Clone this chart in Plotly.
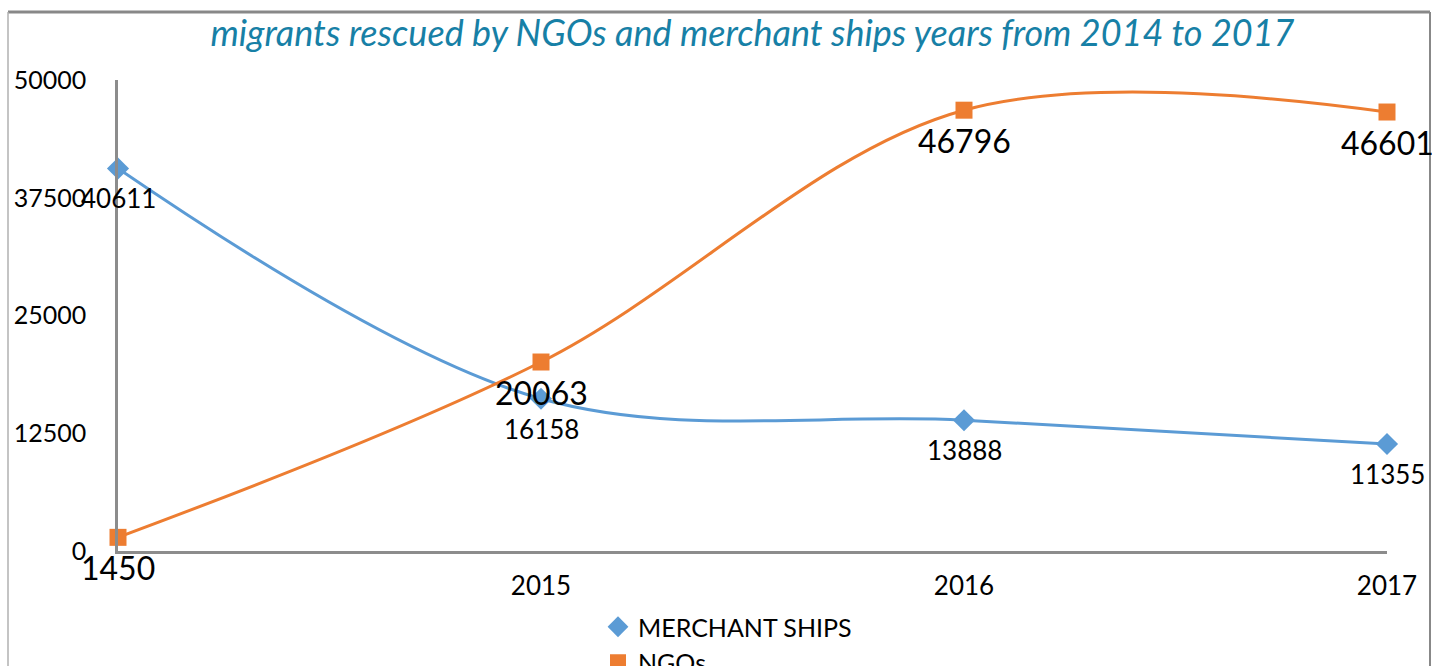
import plotly.graph_objects as go

# Rescues per year
years = [2014, 2015, 2016, 2017]
tick_labels = ["", "2015", "2016", "2017"]
merchant_ships = [40611, 16158, 13888, 11355]
ngos = [1450, 20063, 46796, 46601]
y_ticks = [0, 12500, 25000, 37500, 50000]
y_tick_labels = ["0", "12500", "25000", "37500", "50000"]

FONT = "Lato"
BLUE = "#5B9BD5"
ORANGE = "#ED7D31"
AXIS_GREY = "#8C8C8C"

series = [
    ("MERCHANT SHIPS", merchant_ships, BLUE, "diamond", 17, 26),
    ("NGOs", ngos, ORANGE, "square", 17, 32),
]

fig = go.Figure()

for name, values, color, symbol, msize, label_size in series:
    fig.add_trace(go.Scatter(
        x=years, y=values, name=name, showlegend=False,
        mode="lines+markers",
        line=dict(color=color, width=3, shape="spline", smoothing=1),
        marker=dict(symbol=symbol, size=msize, color=color),
        cliponaxis=False,
    ))
    # Value labels centred just below each marker
    for xv, yv in zip(years, values):
        fig.add_annotation(
            x=xv, y=yv, text=str(yv), showarrow=False,
            xanchor="center", yanchor="middle", yshift=-30,
            font=dict(family=FONT, size=label_size, color="#000000"),
        )

# Legend entries show the marker only
for name, values, color, symbol, msize, label_size in series:
    fig.add_trace(go.Scatter(
        x=[None], y=[None], name=name, mode="markers",
        marker=dict(symbol=symbol, size=16, color=color),
    ))

L, R, T, B = 118, 45, 80, 115
W, H = 1432, 666
pw, ph = W - L - R, H - T - B

def px_x(p):
    return (p - L) / pw

def px_y(p):
    return (H - B - p) / ph

# Outer chart frame
fig.add_shape(type="line", xref="paper", yref="paper",
              x0=px_x(8), x1=px_x(1430), y0=px_y(12), y1=px_y(12),
              line=dict(color="#888888", width=3))
fig.add_shape(type="line", xref="paper", yref="paper",
              x0=px_x(8), x1=px_x(8), y0=px_y(12), y1=px_y(700),
              line=dict(color="#B0B0B0", width=1.5))
fig.add_shape(type="line", xref="paper", yref="paper",
              x0=px_x(1430), x1=px_x(1430), y0=px_y(12), y1=px_y(700),
              line=dict(color="#888888", width=2))

fig.update_layout(
    width=W, height=H,
    margin=dict(l=L, r=R, t=T, b=B, autoexpand=False),
    paper_bgcolor="white", plot_bgcolor="white",
    font=dict(family=FONT, size=26, color="#000000"),
    title=dict(
        text="<i>migrants rescued by NGOs and merchant ships years from 2014 to 2017</i>",
        font=dict(family=FONT, size=36, color="#1780A6"),
        x=0.5, xref="paper", xanchor="center",
        y=1 - 33 / H, yref="container", yanchor="middle",
    ),
    xaxis=dict(
        range=[2014, 2017], tickvals=years, ticktext=tick_labels,
        showgrid=False, zeroline=False, showline=True,
        linecolor=AXIS_GREY, linewidth=2.5, ticks="",
        tickfont=dict(family=FONT, size=26), ticklabelstandoff=10,
    ),
    yaxis=dict(
        range=[0, 50000], tickvals=y_ticks, ticktext=y_tick_labels,
        showgrid=False, zeroline=False, showline=True,
        linecolor=AXIS_GREY, linewidth=2.5, ticks="",
        tickfont=dict(family=FONT, size=25), ticklabelstandoff=24,
    ),
    showlegend=True,
    legend=dict(
        orientation="v", x=px_x(598), xanchor="left",
        y=px_y(604), yanchor="top",
        font=dict(family=FONT, size=25),
        bgcolor="rgba(0,0,0,0)", tracegroupgap=0, itemwidth=30,
    ),
)

fig.write_html("out.html")
